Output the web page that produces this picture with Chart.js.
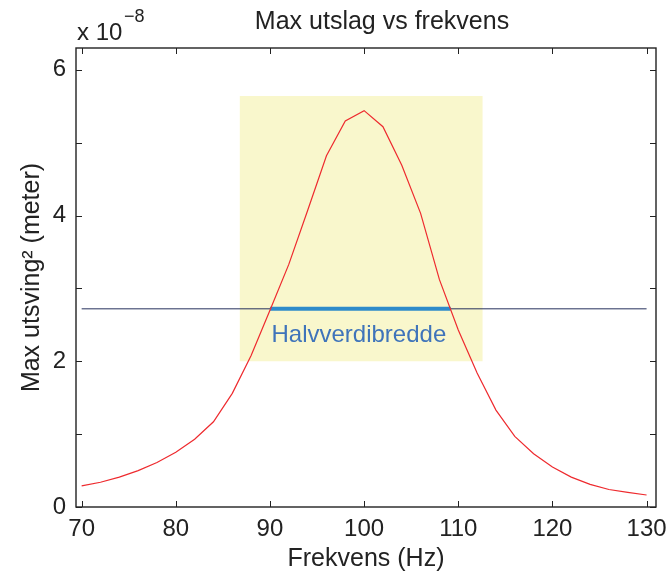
<!DOCTYPE html>
<html>
<head>
<meta charset="utf-8">
<title>Max utslag vs frekvens</title>
<script src="https://cdn.jsdelivr.net/npm/chart.js@4.4.1/dist/chart.umd.min.js"></script>
<style>
  html, body { margin: 0; padding: 0; background: #fff; }
  #wrap { position: relative; width: 666px; height: 573px; }
</style>
</head>
<body>
<div id="wrap"><canvas id="chart"></canvas></div>
<script>
// frequencies (Hz) and max amplitude squared (x 1e-8 m)
const freq = [70, 72, 74, 76, 78, 80, 82, 84, 86, 88, 90, 92, 94, 96, 98, 100,
              102, 104, 106, 108, 110, 112, 114, 116, 118, 120, 122, 124, 126, 128, 130];
const amp = [0.29, 0.34, 0.41, 0.50, 0.61, 0.75, 0.93, 1.17, 1.56, 2.08, 2.70, 3.33, 4.07, 4.82, 5.30, 5.44,
             5.22, 4.69, 4.03, 3.12, 2.43, 1.84, 1.33, 0.97, 0.73, 0.55, 0.41, 0.31, 0.24, 0.20, 0.165];

// half value line and the highlighted width
const halfValue = 2.72;
const halfLineX = [70, 130];
const halfWidthX = [90, 109.2];

// yellow box (x from/to, y from/to)
const boxX = [86.77, 112.6];
const boxY = [2.0, 5.64];

// ticks
const xTicks = [70, 80, 90, 100, 110, 120, 130];
const yTicks = [0, 1, 2, 3, 4, 5, 6];
const yLabelled = [0, 2, 4, 6];

const FONT = "'Liberation Sans', Arial, Helvetica, sans-serif";

// draws the box round the plot, inward ticks, title, exponent and the label
const decorations = {
  id: 'decorations',
  afterDatasetsDraw(chart) {
    const ctx = chart.ctx;
    const a = chart.chartArea;
    const xs = chart.scales.x, ys = chart.scales.y;
    ctx.save();

    // text inside the box
    ctx.fillStyle = '#3f74ba';
    ctx.font = '24px ' + FONT;
    ctx.textBaseline = 'alphabetic';
    ctx.textAlign = 'left';
    ctx.fillText('Halvverdibredde', xs.getPixelForValue(90) + 1.5, ys.getPixelForValue(halfValue) + 33.5);

    // axes box
    ctx.strokeStyle = '#222';
    ctx.lineWidth = 1.4;
    ctx.strokeRect(a.left, a.top, a.right - a.left, a.bottom - a.top);

    // inward ticks on all sides
    ctx.lineWidth = 1;
    const tl = 6;
    ctx.beginPath();
    xTicks.forEach(v => {
      const px = Math.round(xs.getPixelForValue(v)) + 0.5;
      ctx.moveTo(px, a.bottom); ctx.lineTo(px, a.bottom - tl);
      ctx.moveTo(px, a.top); ctx.lineTo(px, a.top + tl);
    });
    yTicks.forEach(v => {
      const py = Math.round(ys.getPixelForValue(v)) + 0.5;
      ctx.moveTo(a.left, py); ctx.lineTo(a.left + tl, py);
      ctx.moveTo(a.right, py); ctx.lineTo(a.right - tl, py);
    });
    ctx.stroke();

    // title
    ctx.fillStyle = '#222';
    ctx.font = '25px ' + FONT;
    ctx.textAlign = 'center';
    ctx.fillText('Max utslag vs frekvens', 382, 28.5);

    // exponent
    ctx.textAlign = 'left';
    ctx.font = '24px ' + FONT;
    ctx.fillText('x 10', 77, 40);
    ctx.font = '18px ' + FONT;
    ctx.fillText('\u22128', 124, 22);

    ctx.restore();
  }
};

const pts = (xsArr, ysArr) => xsArr.map((x, i) => ({ x: x, y: ysArr[i] }));

new Chart(document.getElementById('chart'), {
  type: 'scatter',
  data: {
    datasets: [
      {
        // yellow box
        data: pts(boxX, [boxY[1], boxY[1]]),
        showLine: true,
        borderWidth: 0,
        borderColor: 'rgba(0,0,0,0)',
        backgroundColor: '#f9f7cc',
        fill: { value: boxY[0] },
        pointRadius: 0,
        order: 4
      },
      {
        // half value line
        data: pts(halfLineX, [halfValue, halfValue]),
        showLine: true,
        borderColor: '#25305c',
        borderWidth: 1,
        pointRadius: 0,
        order: 3
      },
      {
        // half value width
        data: pts(halfWidthX, [halfValue, halfValue]),
        showLine: true,
        borderColor: '#2e8bca',
        borderWidth: 4,
        pointRadius: 0,
        order: 2
      },
      {
        label: 'Max utslag',
        data: pts(freq, amp),
        showLine: true,
        borderColor: '#ee2a2e',
        borderWidth: 1.2,
        pointRadius: 0,
        order: 1
      }
    ]
  },
  options: {
    responsive: true,
    maintainAspectRatio: false,
    animation: false,
    layout: { padding: { top: 48, right: 10, left: 0, bottom: 0 } },
    plugins: {
      legend: { display: false },
      tooltip: { enabled: false },
      title: { display: false }
    },
    scales: {
      x: {
        type: 'linear',
        min: 69.4,
        max: 131,
        afterBuildTicks: s => { s.ticks = xTicks.map(v => ({ value: v })); },
        afterFit: s => { s.height = 66; s.paddingLeft = 0; s.paddingRight = 0; },
        grid: { display: false, drawTicks: false },
        border: { display: false },
        ticks: { font: { family: FONT, size: 24 }, color: '#222', padding: 8, maxRotation: 0 },
        title: {
          display: true,
          text: 'Frekvens (Hz)',
          font: { family: FONT, size: 25, lineHeight: 1.1 },
          color: '#222',
          padding: { top: 0, bottom: 0 }
        }
      },
      y: {
        type: 'linear',
        min: 0,
        max: 6.3,
        afterBuildTicks: s => { s.ticks = yTicks.map(v => ({ value: v })); },
        afterFit: s => { s.width = 76; s.paddingTop = 0; s.paddingBottom = 0; },
        grid: { display: false, drawTicks: false },
        border: { display: false },
        ticks: {
          font: { family: FONT, size: 24 },
          color: '#222',
          padding: 10,
          callback: v => (yLabelled.includes(v) ? String(v) : '')
        },
        title: {
          display: true,
          text: 'Max utsving\u00b2 (meter)',
          font: { family: FONT, size: 25, lineHeight: 1.2 },
          color: '#222',
          padding: { top: 17, bottom: 0 }
        }
      }
    }
  },
  plugins: [decorations]
});
</script>
</body>
</html>
